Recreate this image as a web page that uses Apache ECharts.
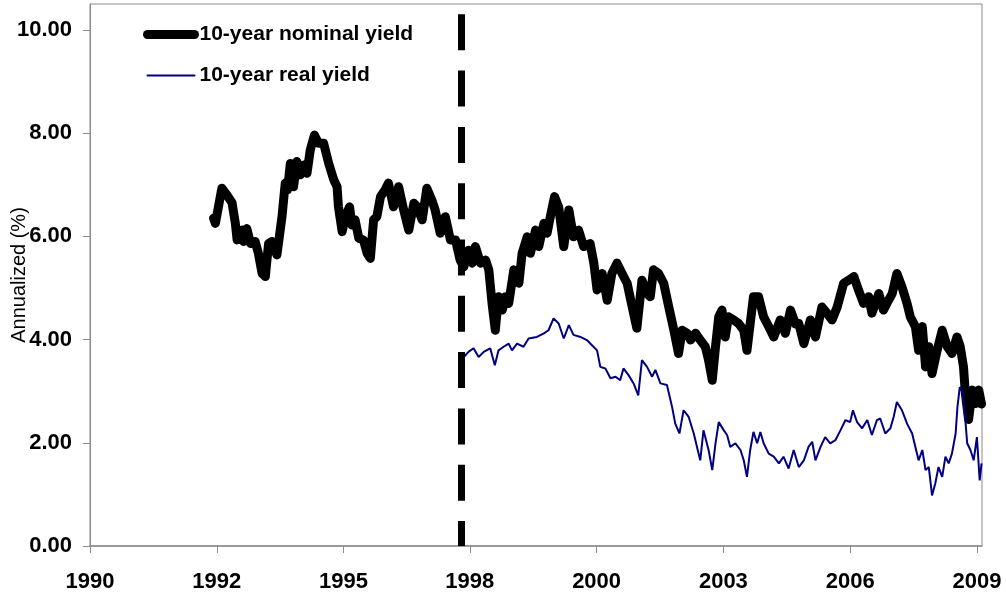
<!DOCTYPE html>
<html>
<head>
<meta charset="utf-8">
<script src="https://cdn.jsdelivr.net/npm/echarts@6/dist/echarts.min.js"></script>
<style>
  html, body { margin: 0; padding: 0; background: #fff; }
  #chart { width: 1006px; height: 599px; }
</style>
</head>
<body>
<div id="chart"></div>
<script>
// 10-year nominal yield (decimal years, %)
const nominalDates = [
  1992.67, 1992.71, 1992.85, 1992.96, 1993.07, 1993.14, 1993.18, 1993.29, 1993.32, 1993.39,
  1993.47, 1993.57, 1993.64, 1993.72, 1993.79, 1993.86, 1993.93, 1994.04, 1994.15, 1994.22,
  1994.27, 1994.33, 1994.40, 1994.47, 1994.55, 1994.62, 1994.69, 1994.76, 1994.85, 1994.94,
  1995.05, 1995.16, 1995.27, 1995.34, 1995.37, 1995.45, 1995.52, 1995.61, 1995.66, 1995.73,
  1995.81, 1995.91, 1995.99, 1996.06, 1996.13, 1996.20, 1996.28, 1996.38, 1996.45, 1996.56,
  1996.67, 1996.78, 1996.89, 1997.00, 1997.07, 1997.18, 1997.28, 1997.39, 1997.46, 1997.57,
  1997.68, 1997.79, 1997.90, 1998.00, 1998.08, 1998.18, 1998.26, 1998.33, 1998.44, 1998.55,
  1998.62, 1998.69, 1998.76, 1998.83, 1998.91, 1998.98, 1999.05, 1999.16, 1999.27, 1999.34,
  1999.45, 1999.52, 1999.63, 1999.70, 1999.81, 1999.88, 1999.95, 2000.04, 2000.13, 2000.24,
  2000.35, 2000.45, 2000.56, 2000.67, 2000.81, 2000.89, 2000.96, 2001.07, 2001.18, 2001.28,
  2001.39, 2001.50, 2001.61, 2001.72, 2001.82, 2001.93, 2002.04, 2002.11, 2002.18, 2002.29,
  2002.40, 2002.51, 2002.62, 2002.72, 2002.80, 2002.91, 2002.98, 2003.09, 2003.19, 2003.30,
  2003.37, 2003.45, 2003.52, 2003.59, 2003.66, 2003.73, 2003.80, 2003.91, 2004.02, 2004.13,
  2004.20, 2004.27, 2004.34, 2004.45, 2004.56, 2004.67, 2004.78, 2004.92, 2005.03, 2005.14,
  2005.25, 2005.32, 2005.43, 2005.57, 2005.68, 2005.82, 2005.93, 2006.04, 2006.15, 2006.29,
  2006.40, 2006.51, 2006.61, 2006.72, 2006.83, 2006.90, 2007.05, 2007.15, 2007.26, 2007.34,
  2007.44, 2007.55, 2007.66, 2007.73, 2007.84, 2007.91, 2007.99, 2008.06, 2008.13, 2008.20,
  2008.31, 2008.42, 2008.53, 2008.63, 2008.74, 2008.81, 2008.88, 2008.92, 2008.99, 2009.07,
  2009.14, 2009.21, 2009.27
];
const nominalYield = [
  6.35, 6.25, 6.93, 6.80, 6.65, 6.26, 5.93, 6.12, 5.90, 6.15,
  5.86, 5.90, 5.67, 5.28, 5.22, 5.86, 5.90, 5.64, 6.38, 7.03,
  6.90, 7.41, 6.96, 7.45, 7.19, 7.38, 7.22, 7.67, 7.96, 7.80,
  7.80, 7.41, 7.09, 6.96, 6.57, 6.09, 6.38, 6.57, 6.22, 6.32,
  5.96, 5.93, 5.67, 5.57, 6.32, 6.38, 6.77, 6.90, 7.03, 6.57,
  6.96, 6.51, 6.12, 6.64, 6.57, 6.32, 6.93, 6.70, 6.51, 6.06,
  6.38, 5.93, 5.93, 5.54, 5.41, 5.73, 5.48, 5.80, 5.48, 5.54,
  5.35, 4.70, 4.18, 4.83, 4.57, 4.83, 4.70, 5.35, 5.09, 5.67,
  5.99, 5.67, 6.12, 5.80, 6.25, 6.06, 6.38, 6.77, 6.57, 5.80,
  6.51, 5.99, 6.12, 5.80, 5.86, 5.48, 4.96, 5.28, 4.76, 5.28,
  5.48, 5.28, 5.09, 4.63, 4.22, 5.15, 4.89, 4.83, 5.35, 5.28,
  5.09, 4.63, 4.18, 3.73, 4.18, 4.12, 3.99, 4.12, 3.99, 3.86,
  3.60, 3.21, 3.86, 4.44, 4.57, 4.05, 4.44, 4.38, 4.31, 4.18,
  3.79, 4.31, 4.83, 4.83, 4.44, 4.25, 4.05, 4.38, 4.12, 4.57,
  4.30, 4.31, 3.92, 4.38, 4.05, 4.63, 4.51, 4.38, 4.63, 5.09,
  5.15, 5.22, 4.96, 4.70, 4.83, 4.51, 4.89, 4.57, 4.76, 4.89,
  5.28, 5.02, 4.70, 4.44, 4.25, 3.79, 4.25, 3.47, 3.86, 3.34,
  3.79, 4.18, 3.86, 3.73, 4.05, 3.86, 3.47, 2.96, 2.45, 3.02,
  2.76, 3.02, 2.75
];

// 10-year real yield (decimal years, %)
const realDates = [
  1998.08, 1998.18, 1998.29, 1998.40, 1998.51, 1998.65, 1998.75, 1998.83, 1998.94, 1999.05,
  1999.12, 1999.23, 1999.37, 1999.48, 1999.66, 1999.81, 1999.91, 2000.02, 2000.13, 2000.24,
  2000.35, 2000.45, 2000.60, 2000.74, 2000.85, 2000.96, 2001.03, 2001.14, 2001.25, 2001.36,
  2001.46, 2001.53, 2001.64, 2001.75, 2001.85, 2001.93, 2002.04, 2002.15, 2002.22, 2002.33,
  2002.47, 2002.58, 2002.65, 2002.74, 2002.83, 2002.94, 2003.05, 2003.12, 2003.19, 2003.26,
  2003.37, 2003.45, 2003.52, 2003.59, 2003.70, 2003.77, 2003.84, 2003.95, 2004.06, 2004.13,
  2004.20, 2004.27, 2004.34, 2004.42, 2004.49, 2004.56, 2004.67, 2004.78, 2004.89, 2004.99,
  2005.10, 2005.21, 2005.32, 2005.43, 2005.53, 2005.61, 2005.68, 2005.79, 2005.89, 2006.00,
  2006.11, 2006.22, 2006.33, 2006.43, 2006.49, 2006.58, 2006.69, 2006.80, 2006.90, 2007.01,
  2007.08, 2007.19, 2007.30, 2007.37, 2007.44, 2007.55, 2007.66, 2007.77, 2007.84, 2007.91,
  2007.99, 2008.06, 2008.13, 2008.20, 2008.27, 2008.34, 2008.42, 2008.49, 2008.56, 2008.63,
  2008.71, 2008.75, 2008.80, 2008.87, 2008.92, 2008.96, 2009.03, 2009.10, 2009.17, 2009.23,
  2009.27
];
const realYield = [
  3.66, 3.76, 3.83, 3.66, 3.76, 3.83, 3.50, 3.79, 3.86, 3.92,
  3.79, 3.92, 3.86, 4.02, 4.05, 4.12, 4.18, 4.41, 4.31, 4.02,
  4.28, 4.09, 4.05, 3.99, 3.89, 3.79, 3.47, 3.44, 3.25, 3.28,
  3.21, 3.44, 3.31, 3.15, 2.92, 3.60, 3.47, 3.28, 3.41, 3.15,
  3.12, 2.70, 2.37, 2.18, 2.63, 2.50, 2.18, 1.92, 1.66, 2.24,
  1.86, 1.47, 1.99, 2.40, 2.24, 2.15, 1.92, 1.99, 1.86, 1.66,
  1.34, 1.86, 2.21, 1.99, 2.21, 1.99, 1.79, 1.73, 1.60, 1.73,
  1.50, 1.86, 1.53, 1.66, 1.92, 2.02, 1.66, 1.92, 2.11, 1.99,
  2.05, 2.24, 2.44, 2.40, 2.63, 2.40, 2.28, 2.44, 2.15, 2.44,
  2.47, 2.18, 2.28, 2.50, 2.79, 2.63, 2.37, 2.18, 1.92, 1.66,
  1.86, 1.47, 1.53, 0.98, 1.21, 1.53, 1.34, 1.73, 1.60, 1.79,
  2.18, 2.70, 3.08, 2.96, 2.44, 1.99, 1.86, 1.66, 2.11, 1.27,
  1.60
];

// axis ticks (date axis with ~1000-day steps) and the dashed marker
const xTickYears = [1990, 1992.74, 1995.48, 1998.21, 2000.95, 2003.69, 2006.43, 2009.17];
const yTicks = [0, 2, 4, 6, 8, 10];
const markerYear = 1998.03;

const font = "'Liberation Sans', Arial, sans-serif";
const zip = (xs, ys) => xs.map((x, i) => [x, ys[i]]);

const chart = echarts.init(document.getElementById('chart'));

chart.setOption({
  animation: false,
  backgroundColor: '#fff',
  textStyle: { fontFamily: font },
  grid: {
    left: 90, right: 24, top: 4, bottom: 53,
    outerBoundsMode: 'none',
    containLabel: false,
    show: true, borderColor: '#8c8c8c', borderWidth: 1
  },
  legend: {
    orient: 'vertical',
    left: 143, top: 24, padding: 0,
    itemWidth: 47, itemHeight: 14, itemGap: 20,
    textStyle: { fontFamily: font, fontSize: 21, fontWeight: 'bold', color: '#000' },
    itemStyle: { opacity: 0 },
    lineStyle: { width: 'inherit', cap: 'round' },
    data: ['10-year nominal yield', '10-year real yield']
  },
  xAxis: {
    type: 'value',
    min: 1990,
    max: 2009.28,
    axisLine: { lineStyle: { color: '#8c8c8c', width: 1.5 } },
    axisTick: { length: 7, customValues: xTickYears, lineStyle: { color: '#8c8c8c' } },
    axisLabel: {
      customValues: xTickYears,
      formatter: v => String(Math.floor(v + 0.001)),
      fontFamily: font, fontSize: 22, fontWeight: 'bold', color: '#000', margin: 25
    },
    splitLine: { show: false }
  },
  yAxis: {
    type: 'value',
    min: 0,
    max: 10.5,
    name: 'Annualized (%)',
    nameLocation: 'middle',
    nameGap: 61,
    nameMoveOverlap: false,
    nameTextStyle: { fontFamily: font, fontSize: 20, color: '#000', padding: [0, 0, 0, 0] },
    axisLine: { show: true, lineStyle: { color: '#8c8c8c', width: 1 } },
    axisTick: { show: true, length: 7, customValues: yTicks, lineStyle: { color: '#8c8c8c' } },
    axisLabel: {
      customValues: yTicks,
      formatter: v => v.toFixed(2),
      fontFamily: font, fontSize: 22, fontWeight: 'bold', color: '#000', margin: 18
    },
    splitLine: { show: false }
  },
  series: [
    {
      name: '10-year nominal yield',
      type: 'line',
      symbol: 'none',
      data: zip(nominalDates, nominalYield),
      lineStyle: { color: '#000', width: 9, cap: 'round', join: 'round' },
      itemStyle: { color: '#000' },
      markLine: {
        silent: true,
        symbol: 'none',
        label: { show: false },
        lineStyle: { color: '#000', width: 7, type: [36, 20.3], dashOffset: 11 },
        data: [{ xAxis: markerYear }]
      }
    },
    {
      name: '10-year real yield',
      type: 'line',
      symbol: 'none',
      data: zip(realDates, realYield),
      lineStyle: { color: '#000080', width: 2 },
      itemStyle: { color: '#000080' }
    }
  ]
});
</script>
</body>
</html>
